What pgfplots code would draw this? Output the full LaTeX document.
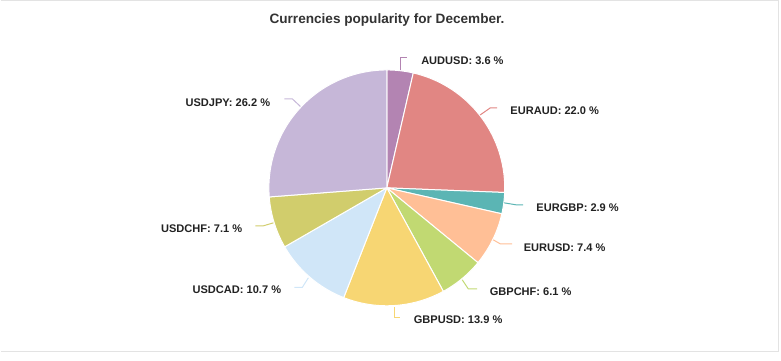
\documentclass[border=0pt]{standalone}
\usepackage{fontspec}
\setmainfont{Liberation Sans}
\usepackage{pgfplots}
\usepackage{pgfplotstable}
\pgfplotsset{compat=1.18}
\definecolor{cA}{HTML}{B384B2}
\definecolor{cB}{HTML}{E18683}
\definecolor{cC}{HTML}{5BB5B4}
\definecolor{cD}{HTML}{FFBF96}
\definecolor{cE}{HTML}{C1D972}
\definecolor{cF}{HTML}{F7D673}
\definecolor{cG}{HTML}{D0E6F8}
\definecolor{cH}{HTML}{D1CD6C}
\definecolor{cI}{HTML}{C6B7D8}
\definecolor{txt}{HTML}{222222}
\definecolor{ttl}{HTML}{333333}
\definecolor{frame}{HTML}{E3E3E3}
\pgfplotstableread{
name value color
AUDUSD 3.6 cA
EURAUD 22.0 cB
EURGBP 2.9 cC
EURUSD 7.4 cD
GBPCHF 6.1 cE
GBPUSD 13.9 cF
USDCAD 10.7 cG
USDCHF 7.1 cH
USDJPY 26.2 cI
}\piedata
\begin{document}
\begin{tikzpicture}
\begin{axis}[
  scale only axis,
  width=585.75pt, height=270.75pt,
  xmin=0, xmax=781, ymin=0, ymax=361,
  y dir=reverse,
  hide axis,
  clip=false,
]
\path (rel axis cs:0,0) rectangle (rel axis cs:1,1);
\draw[frame, line width=0.9pt] (axis cs:0,0.6) -- (axis cs:778.4,0.6) -- (axis cs:778.4,351.4) -- (axis cs:0,351.4);
% total
\def\tot{0}
\pgfplotsforeachungrouped \i in {0,...,8}{%
  \pgfplotstablegetelem{\i}{value}\of\piedata
  \pgfmathsetmacro\tot{\tot+\pgfplotsretval}%
}
\def\cum{0}
\pgfplotsforeachungrouped \i in {0,...,8}{%
  \pgfplotstablegetelem{\i}{value}\of\piedata
  \let\v\pgfplotsretval
  \pgfplotstablegetelem{\i}{color}\of\piedata
  \let\c\pgfplotsretval
  \pgfmathsetmacro\a{\cum/\tot*360}%
  \pgfmathsetmacro\b{(\cum+\v)/\tot*360}%
  \edef\temp{\noexpand\addplot[fill=\c, draw=white, line width=0.75pt, line join=round, domain=\a:\b, samples=60] ({386.5+118*sin(x)},{188-118*cos(x)}) -- (axis cs:386.5,188) -- cycle;}%
  \temp
  \pgfmathsetmacro\cum{\cum+\v}%
}
% connectors
\addplot[cA, line width=0.75pt] coordinates {(400.5,70.5) (400.5,57.5) (407,57.5)};
\addplot[cB, line width=0.75pt] coordinates {(480,115) (490,108) (497,108)};
\addplot[cC, line width=0.75pt] coordinates {(504,203) (516,205) (523,205)};
\addplot[cD, line width=0.75pt] coordinates {(493,240) (500,244) (512,244)};
\addplot[cE, line width=0.75pt] coordinates {(462,280) (468,289) (477,289)};
\addplot[cF, line width=0.75pt] coordinates {(394,307) (394,317.5) (400,317.5)};
\addplot[cG, line width=0.75pt] coordinates {(308,278) (302,287.5) (294,287.5)};
\addplot[cH, line width=0.75pt] coordinates {(273,223) (263,226) (255,226)};
\addplot[cI, line width=0.75pt] coordinates {(300,106.5) (292,99) (284,99)};
% labels
\begin{scope}[every node/.style={font=\fontsize{8.3pt}{10pt}\selectfont\bfseries, text=txt, inner sep=0pt}]
\node[anchor=west] at (axis cs:420.7,60.5) {AUDUSD: 3.6 \%};
\node[anchor=west] at (axis cs:510,110.5) {EURAUD: 22.0 \%};
\node[anchor=west] at (axis cs:536,208.3) {EURGBP: 2.9 \%};
\node[anchor=west] at (axis cs:523.3,248.3) {EURUSD: 7.4 \%};
\node[anchor=west] at (axis cs:489.3,292.3) {GBPCHF: 6.1 \%};
\node[anchor=west] at (axis cs:413.3,320.3) {GBPUSD: 13.9 \%};
\node[anchor=east] at (axis cs:281,290.3) {USDCAD: 10.7 \%};
\node[anchor=east] at (axis cs:242,229.3) {USDCHF: 7.1 \%};
\node[anchor=east] at (axis cs:270,102.8) {USDJPY: 26.2 \%};
\end{scope}
\node[font=\fontsize{10.2pt}{12pt}\selectfont\bfseries, text=ttl, inner sep=0pt] at (axis cs:386.7,19.5) {Currencies popularity for December.};
\end{axis}
\end{tikzpicture}
\end{document}
